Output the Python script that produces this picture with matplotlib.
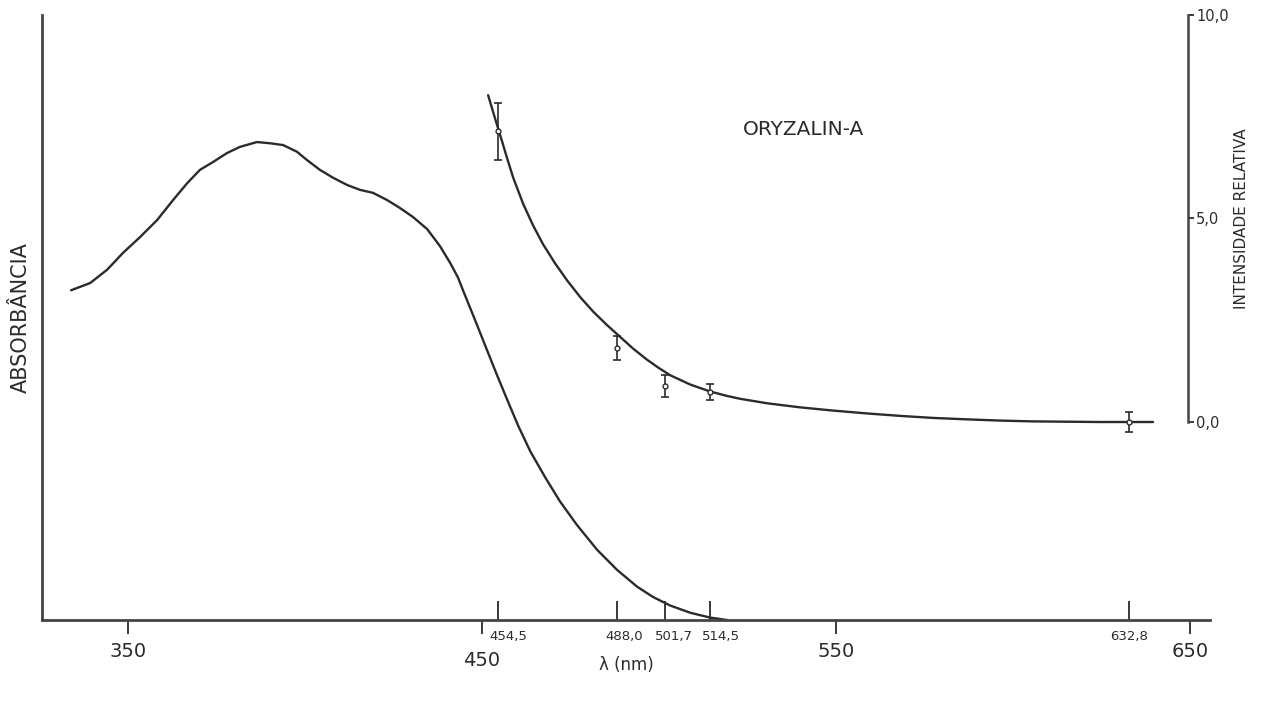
import matplotlib
matplotlib.use("Agg")
import matplotlib.pyplot as plt
import matplotlib.transforms as mtransforms

# absorption spectrum (arbitrary absorbance units)
abs_wl = [333.9, 339.3, 344.1, 348.6, 353.4, 358.2, 362.7, 366.7, 370.3, 374.0, 378.0, 381.6,
          386.4, 390.1, 393.8, 397.7, 400.6, 404.2, 407.9, 411.9, 415.5, 419.2, 423.2, 426.8,
          430.5, 434.5, 438.1, 441.0, 443.2, 444.6, 448.0, 451.4, 454.2, 457.1, 460.2, 463.6,
          467.8, 472.0, 476.8, 482.5, 488.1, 493.8, 498.3, 503.1, 508.8, 514.4, 519.2]
abs_val = [0.545, 0.557, 0.579, 0.607, 0.633, 0.661, 0.694, 0.722, 0.744, 0.757, 0.772, 0.782,
           0.790, 0.788, 0.785, 0.774, 0.760, 0.744, 0.731, 0.719, 0.711, 0.706, 0.694, 0.681,
           0.666, 0.646, 0.618, 0.590, 0.566, 0.545, 0.496, 0.446, 0.405, 0.364, 0.321, 0.279,
           0.236, 0.196, 0.157, 0.116, 0.083, 0.055, 0.038, 0.024, 0.012, 0.004, 0.0]

# relative Raman intensity curve
int_wl = [451.7, 453.1, 454.5, 455.9, 457.1, 458.8, 461.6, 464.4, 467.2, 470.6, 474.0, 477.7,
          481.4, 485.3, 489.0, 492.7, 496.6, 499.7, 503.1, 508.8, 514.4, 519.2, 522.9, 530.5,
          539.8, 549.2, 558.8, 568.1, 577.4, 587.0, 596.3, 605.6, 624.6, 639.5]
int_val = [8.03, 7.62, 7.22, 6.82, 6.47, 6.00, 5.36, 4.83, 4.37, 3.90, 3.48, 3.07,
           2.71, 2.38, 2.09, 1.80, 1.53, 1.34, 1.15, 0.92, 0.75, 0.64, 0.57, 0.46,
           0.36, 0.28, 0.21, 0.15, 0.10, 0.065, 0.035, 0.015, 0.0, 0.0]

# laser lines with measured intensities
laser_lines = [454.5, 488.0, 501.7, 514.5, 632.8]
laser_labels = ["454,5", "488,0", "501,7", "514,5", "632,8"]
laser_int = [7.14, 1.82, 0.88, 0.74, 0.0]
laser_err = [0.70, 0.30, 0.27, 0.20, 0.25]
label_shift = [10, 8, 9, 10, 0]

main_ticks = [350, 450, 550, 650]
int_ticks = [0, 5, 10]
int_ticklabels = ["0,0", "5,0", "10,0"]

ink = "#2b2b2b"

fig = plt.figure(figsize=(12.62, 7.04), dpi=100)
ax = fig.add_axes([0.0333, 0.1193, 0.9255, 0.8594])
ax2 = ax.twinx()

ax.plot(abs_wl, abs_val, color=ink, lw=1.7, solid_capstyle="round", solid_joinstyle="round")
ax.set_xlim(325.7, 655.6)
ax.set_ylim(0, 1)

ax2.plot(int_wl, int_val, color=ink, lw=1.7, solid_capstyle="round", solid_joinstyle="round")
ax2.errorbar(laser_lines, laser_int, yerr=laser_err, fmt="o", ms=3.5, mfc="white",
             mec=ink, color=ink, elinewidth=1.2, capsize=3, capthick=1.2, zorder=3)
ax2.set_ylim(-4.865, 10.0)

# spines
for s in ["top", "right"]:
    ax.spines[s].set_visible(False)
for s in ["left", "bottom"]:
    ax.spines[s].set_linewidth(2)
    ax.spines[s].set_color("#444444")
for s in ["top", "left", "bottom"]:
    ax2.spines[s].set_visible(False)
ax2.spines["right"].set_position(("data", 649.3))
ax2.spines["right"].set_bounds(0, 10)
ax2.spines["right"].set_linewidth(1.8)
ax2.spines["right"].set_color("#444444")

# left axis: no ticks
ax.tick_params(axis="y", left=False, labelleft=False)
ax.set_ylabel("ABSORBÂNCIA", fontsize=15, labelpad=8, color=ink)

# x ticks
ax.set_xticks(main_ticks)
ax.tick_params(axis="x", which="major", direction="out", length=10, width=1.3,
               pad=6, labelsize=14, colors=ink)
ax.set_xticks(laser_lines, minor=True)
ax.tick_params(axis="x", which="minor", direction="in", length=14, width=1.3, colors=ink)
t450 = ax.xaxis.get_major_ticks()[1]
t450.tick1line.set_markersize(17)
t450.set_pad(12)

trans = mtransforms.blended_transform_factory(ax.transData, ax.transAxes)
for lam, lab, dx in zip(laser_lines, laser_labels, label_shift):
    ax.text(lam, -0.028, lab, transform=trans + mtransforms.ScaledTranslation(dx / 100, 0, fig.dpi_scale_trans),
            ha="center", va="center", fontsize=9.5, color=ink)

ax.text(0.5, -0.074, "λ (nm)", transform=ax.transAxes, ha="center", va="center",
        fontsize=12, color=ink)

# right intensity axis
ax2.set_yticks(int_ticks)
ax2.set_yticklabels(int_ticklabels)
ax2.tick_params(axis="y", direction="out", length=4, width=1.3, pad=2, labelsize=10.5, colors=ink)
ax2.text(1.027, 0.664, "INTENSIDADE RELATIVA", transform=ax.transAxes, rotation=90,
         ha="center", va="center", fontsize=11, color=ink)

ax.text(0.652, 0.81, "ORYZALIN-A", transform=ax.transAxes, ha="center", va="center",
        fontsize=14.5, color=ink)

fig.savefig("out.png", dpi=100)
